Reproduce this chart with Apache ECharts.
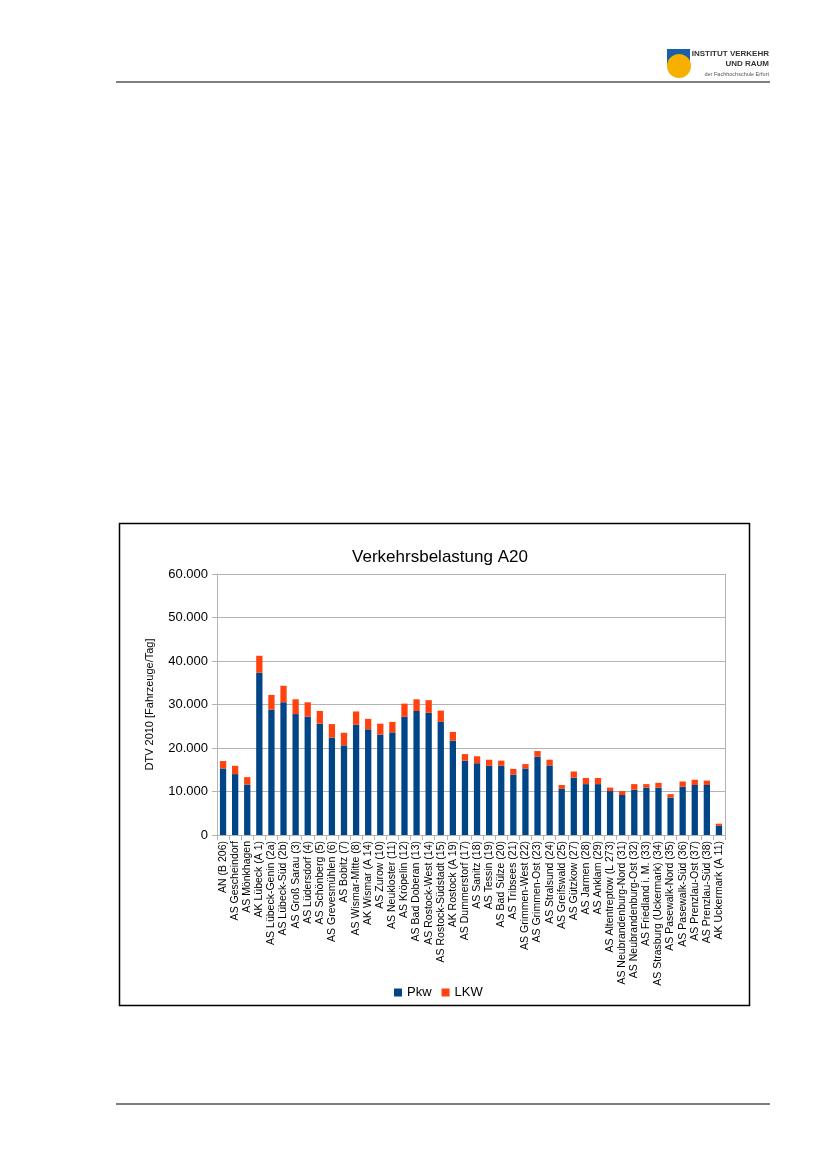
<!DOCTYPE html>
<html><head><meta charset="utf-8">
<script src="https://cdn.jsdelivr.net/npm/echarts@6/dist/echarts.min.js"></script>
<style>html,body{margin:0;padding:0;background:#fff;}#c{width:827px;height:1169px;}</style>
</head><body><div id="c"></div>
<script>
const categories = ["AN (B 206)","AS Gescheindorf","AS Mönkhagen","AK Lübeck (A 1)","AS Lübeck-Genin (2a)","AS Lübeck-Süd (2b)","AS Groß Sarau (3)","AS Lüdersdorf (4)","AS Schönberg (5)","AS Grevesmühlen (6)","AS Bobitz (7)","AS Wismar-Mitte (8)","AK Wismar (A 14)","AS Zurow (10)","AS Neukloster (11)","AS Kröpelin (12)","AS Bad Doberan (13)","AS Rostock-West (14)","AS Rostock-Südstadt (15)","AK Rostock (A 19)","AS Dummerstorf (17)","AS Sanitz (18)","AS Tessin (19)","AS Bad Sülze (20)","AS Tribsees (21)","AS Grimmen-West (22)","AS Grimmen-Ost (23)","AS Stralsund (24)","AS Greifswald (25)","AS Gützkow (27)","AS Jarmen (28)","AS Anklam (29)","AS Altentreptow (L 273)","AS Neubrandenburg-Nord (31)","AS Neubrandenburg-Ost (32)","AS Friedland i. M. (33)","AS Strasburg (Uckermark) (34)","AS Pasewalk-Nord (35)","AS Pasewalk-Süd (36)","AS Prenzlau-Ost (37)","AS Prenzlau-Süd (38)","AK Uckermark (A 11)"];
const pkw = [15300,14000,11600,37300,28800,30500,27800,27200,25600,22400,20600,25400,24300,23100,23600,27200,28500,28100,26000,21700,17100,16500,15900,15900,13900,15300,18000,16000,10600,13200,11700,11700,10100,9200,10400,10900,10900,8600,11100,11500,11500,2100];
const lkw = [1700,1900,1700,3900,3400,3800,3400,3300,2900,3100,2900,3000,2400,2500,2400,3000,2700,2900,2600,2000,1500,1600,1400,1200,1300,1000,1300,1300,900,1400,1400,1400,800,900,1300,800,1100,800,1200,1200,1000,500];
const yTicks = [0,10000,20000,30000,40000,50000,60000];
const seriesNames = ["Pkw","LKW"];
const colors = ["#004586","#ff420e"];

const chart = echarts.init(document.getElementById('c'), null, {renderer:'canvas'});
const fmt = v => v===0 ? '0' : String(v).replace(/\B(?=(\d{3})+(?!\d))/g,'.');
chart.setOption({
  animation:false,
  backgroundColor:'#fff',
  title:{text:'Verkehrsbelastung A20', left:435, top:544, textAlign:'center',
    textStyle:{fontFamily:'Liberation Sans', fontSize:17, fontWeight:'normal', color:'#000'}},
  legend:{data:seriesNames, left:389, top:981, itemWidth:8, itemHeight:8, itemGap:10,
    icon:'rect', textStyle:{fontFamily:'Liberation Sans', fontSize:13, color:'#000'}},
  grid:{left:217, top:574, right:102, bottom:334, show:false},
  xAxis:{type:'category', data:categories,
    axisLine:{lineStyle:{color:'#b3b3b3'}},
    axisTick:{show:true, length:5, lineStyle:{color:'#b3b3b3'}},
    axisLabel:{rotate:90, interval:0, fontFamily:'Liberation Sans', fontSize:10.5, color:'#000', margin:6}},
  yAxis:{type:'value', min:yTicks[0], max:yTicks[yTicks.length-1], interval:10000,
    name:'DTV 2010 [Fahrzeuge/Tag]', nameLocation:'middle', nameGap:62,
    nameTextStyle:{fontFamily:'Liberation Sans', fontSize:11, color:'#000'},
    axisLine:{show:true, lineStyle:{color:'#b3b3b3'}},
    axisTick:{show:true, length:5, lineStyle:{color:'#b3b3b3'}},
    splitLine:{lineStyle:{color:'#b3b3b3'}},
    axisLabel:{formatter:fmt, fontFamily:'Liberation Sans', fontSize:13, color:'#000', margin:9}},
  series:[
    {name:seriesNames[0], type:'bar', stack:'a', data:pkw, barWidth:'52%', itemStyle:{color:colors[0]}},
    {name:seriesNames[1], type:'bar', stack:'a', data:lkw, barWidth:'52%', itemStyle:{color:colors[1]}}
  ],
  graphic:[
    {type:'line', shape:{x1:725.5,y1:574,x2:725.5,y2:835}, style:{stroke:'#b3b3b3',lineWidth:1}},
    {type:'rect', shape:{x:119.5,y:523.5,width:630,height:482}, style:{fill:'none',stroke:'#000',lineWidth:1.5}},
    {type:'line', shape:{x1:116,y1:82,x2:770,y2:82}, style:{stroke:'#555',lineWidth:1.5}},
    {type:'line', shape:{x1:116,y1:1104,x2:770,y2:1104}, style:{stroke:'#555',lineWidth:1.5}},
    {type:'rect', shape:{x:667,y:49,width:23,height:17}, style:{fill:'#1a5fa8'}},
    {type:'circle', shape:{cx:679,cy:66,r:12}, style:{fill:'#f7b000'}},
    {type:'text', style:{x:769,y:54,text:'INSTITUT VERKEHR',align:'right',verticalAlign:'middle',fontFamily:'Liberation Sans',fontSize:8,fontWeight:'bold',fill:'#333'}},
    {type:'text', style:{x:769,y:64,text:'UND RAUM',align:'right',verticalAlign:'middle',fontFamily:'Liberation Sans',fontSize:8,fontWeight:'bold',fill:'#333'}},
    {type:'text', style:{x:769,y:74,text:'der Fachhochschule Erfurt',align:'right',verticalAlign:'middle',fontFamily:'Liberation Sans',fontSize:5.5,fill:'#555'}}
  ]
});
</script></body></html>
